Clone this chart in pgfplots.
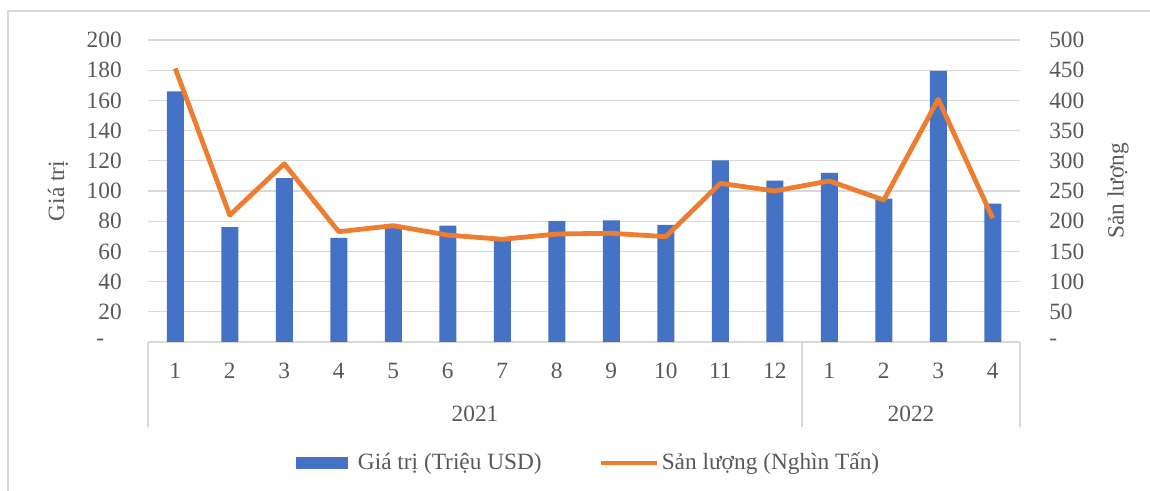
\documentclass[border=0pt]{standalone}
\usepackage{fontspec}
\setmainfont{Liberation Serif}
\usepackage{pgfplots}
\usepackage{pgfplotstable}
\pgfplotsset{compat=1.18}
\definecolor{barblue}{HTML}{4472C4}
\definecolor{lineorange}{HTML}{ED7D31}
\definecolor{gridgray}{HTML}{D9D9D9}
\definecolor{txtgray}{HTML}{595959}

\pgfplotstableread{
x val vol
0 166 453
1 76 210
2 108.5 295
3 69 182.6
4 75.5 192.6
5 77 177
6 67 170
7 80 178.8
8 80.5 180
9 77.5 174.4
10 120.3 262.7
11 106.8 250
12 112 266.6
13 95 235
14 179.5 402
15 91.6 204.8
}\data

\begin{document}
\fontsize{17.5}{21}\selectfont
\begin{tikzpicture}
\useasboundingbox (0,0) rectangle (862.5pt,368.25pt);
\draw[gridgray, line width=1pt] (6pt,0) -- (6pt,360pt) -- (862.5pt,360pt);
\pgfplotsset{every axis/.append style={
  scale only axis, width=654pt, height=226.5pt,
  at={(111pt,111.75pt)}, anchor=south west,
  xmin=-0.5, xmax=15.5, clip=false,
  major tick length=0pt,
  ticklabel style={text=txtgray},
  label style={text=txtgray},
}}
\begin{axis}[
  axis x line*=bottom, axis y line*=left,
  y axis line style={draw=none},
  x axis line style={draw=gridgray, line width=1pt, -},
  ymin=0, ymax=200, ytick={0,20,...,200},
  yticklabels={{-\hspace*{0.75em}},20,40,60,80,100,120,140,160,180,200},
  ymajorgrids, grid style={gridgray, line width=1pt},
  xtick={0,...,15},
  xticklabels={1,2,3,4,5,6,7,8,9,10,11,12,1,2,3,4},
  xticklabel style={anchor=center, yshift=-21.4pt},
  yticklabel style={anchor=east, inner sep=0pt, xshift=-19.5pt},
  ylabel={Giá trị},
  ylabel style={at={(rel axis cs:0,0.5)}, anchor=center, rotate=0, yshift=67.5pt},
]
\addplot[ybar, bar width=12.75pt, fill=barblue, draw=none] table[x=x,y=val]{\data};
\node[text=txtgray] at (axis cs:5.5,0) [yshift=-53.6pt] {2021};
\node[text=txtgray] at (axis cs:13.5,0) [yshift=-53.6pt] {2022};
\draw[gridgray, line width=1pt] (axis cs:-0.5,0) -- ([yshift=-63.75pt]axis cs:-0.5,0);
\draw[gridgray, line width=1pt] (axis cs:11.5,0) -- ([yshift=-63.75pt]axis cs:11.5,0);
\draw[gridgray, line width=1pt] (axis cs:15.5,0) -- ([yshift=-63.75pt]axis cs:15.5,0);
\end{axis}
\begin{axis}[
  axis y line*=right, axis x line=none,
  y axis line style={draw=none},
  xtick=\empty,
  ymin=0, ymax=500, ytick={0,50,...,500},
  yticklabels={-,50,100,150,200,250,300,350,400,450,500},
  yticklabel style={anchor=west, inner sep=0pt, xshift=21.75pt},
  ylabel={Sản lượng},
  ylabel style={at={(rel axis cs:1,0.5)}, anchor=center, rotate=0, yshift=-73.5pt},
  legend columns=2,
  legend style={at={(0.5057,-0.4007)}, anchor=center, draw=none, fill=none,
    text=txtgray,
    /tikz/column 1/.style={column sep=6pt},
    /tikz/column 2/.style={column sep=41.5pt},
    /tikz/column 3/.style={column sep=0pt}},
]
\addlegendimage{legend image code/.code={\fill[barblue] (0pt,-4.25pt) rectangle (38pt,4.25pt);}}
\addlegendentry{Giá trị (Triệu USD)}
\addplot[lineorange, line width=3.6pt, line join=round,
  legend image code/.code={\draw[lineorange, line width=2.5pt] (0pt,0pt) -- (42pt,0pt);}]
  table[x=x,y=vol]{\data};
\addlegendentry{Sản lượng (Nghìn Tấn)}
\end{axis}
\end{tikzpicture}
\end{document}
